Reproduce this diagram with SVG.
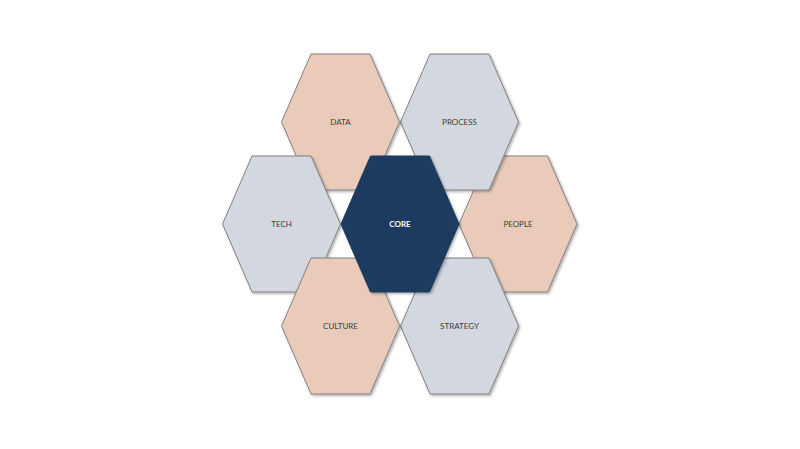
<svg xmlns="http://www.w3.org/2000/svg" xmlns:xlink="http://www.w3.org/1999/xlink" width="800" height="449" viewBox="0 0 800 449">
<style>
.hex{stroke:#7f7f7f;stroke-width:1;filter:url(#sh)}
.peach{fill:#EACBBA}
.grey{fill:#D3D7E0}
.core{fill:#1C3A5E;stroke:#1C3A5E}
.lbl{font-family:Lato,"Liberation Sans",sans-serif;font-size:8px;fill:#404040;text-anchor:middle;dominant-baseline:central}
.lblw{fill:#ffffff;font-weight:bold}
</style>
<defs>
<filter id="sh" x="-20%" y="-20%" width="140%" height="140%">
<feDropShadow dx="1.5" dy="1.5" stdDeviation="1" flood-color="#000" flood-opacity="0.3"/>
</filter>
<polygon id="hx" points="-29.5,-68 29.5,-68 59,0 29.5,68 -29.5,68 -59,0"/>
</defs>
<rect width="800" height="449" fill="#ffffff"/>
<g id="connectors"/>
<g id="people" transform="translate(518,224)"><use xlink:href="#hx" href="#hx" class="hex peach"/><text class="lbl" x="0" y="0">PEOPLE</text></g>
<g id="process" transform="translate(459.5,122)"><use xlink:href="#hx" href="#hx" class="hex grey"/><text class="lbl" x="0" y="0">PROCESS</text></g>
<g id="strategy" transform="translate(459.5,326)"><use xlink:href="#hx" href="#hx" class="hex grey"/><text class="lbl" x="0" y="0">STRATEGY</text></g>
<g id="data" transform="translate(340.5,122)"><use xlink:href="#hx" href="#hx" class="hex peach"/><text class="lbl" x="0" y="0">DATA</text></g>
<g id="tech" transform="translate(281.5,224)"><use xlink:href="#hx" href="#hx" class="hex grey"/><text class="lbl" x="0" y="0">TECH</text></g>
<g id="culture" transform="translate(340.5,326)"><use xlink:href="#hx" href="#hx" class="hex peach"/><text class="lbl" x="0" y="0">CULTURE</text></g>
<g id="core" transform="translate(400,224)"><use xlink:href="#hx" href="#hx" class="hex core"/><text class="lbl lblw" x="0" y="0">CORE</text></g>
</svg>
